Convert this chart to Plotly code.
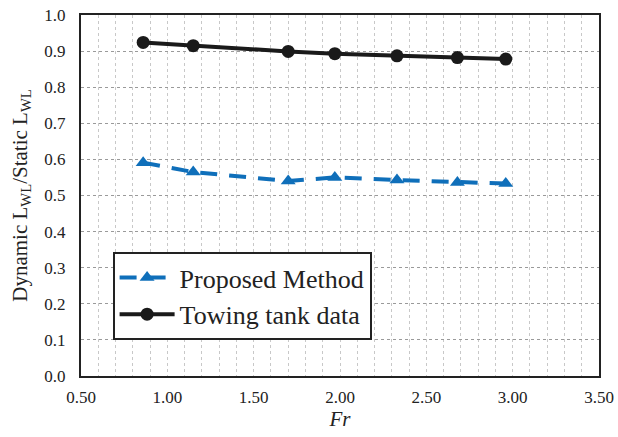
import plotly.graph_objects as go

fr = [0.86, 1.15, 1.70, 1.97, 2.33, 2.68, 2.96]
proposed = [0.591, 0.565, 0.540, 0.550, 0.543, 0.536, 0.533]
towing = [0.924, 0.915, 0.899, 0.893, 0.887, 0.882, 0.878]

FONT = "Liberation Serif"
BLUE = "#0F6FBA"
INK = "#222222"

fig = go.Figure()
fig.add_trace(go.Scatter(
    x=fr, y=proposed, name="Proposed Method", mode="lines+markers",
    line=dict(color=BLUE, width=4, dash="17px,12px"),
    marker=dict(symbol="triangle-up", size=13, color=BLUE),
    legendgroup="a",
))
fig.add_trace(go.Scatter(
    x=fr, y=towing, name="Towing tank data", mode="lines+markers",
    line=dict(color="#1a1a1a", width=4),
    marker=dict(symbol="circle", size=13, color="#1a1a1a"),
    legendgroup="b",
))

fig.update_layout(
    width=618, height=437,
    margin=dict(l=81, r=19, t=15, b=61, autoexpand=False),
    paper_bgcolor="white", plot_bgcolor="white",
    font=dict(family=FONT, color=INK, size=17),
    showlegend=True,
    legend=dict(
        x=0.061, y=0.3435, xanchor="left", yanchor="top",
        bgcolor="white", bordercolor=INK, borderwidth=2,
        font=dict(family=FONT, size=26, color=INK),
        traceorder="grouped", tracegroupgap=0, itemwidth=55,
    ),
    xaxis=dict(
        range=[0.5, 3.5], dtick=0.5, tick0=0.5, tickformat=".2f",
        tickfont=dict(family=FONT, size=17, color=INK),
        showline=True, linecolor=INK, linewidth=2, mirror=True,
        showgrid=True, gridcolor="#c8c8c8", griddash="dot", gridwidth=1,
        minor=dict(dtick=0.1, showgrid=True, gridcolor="#c8c8c8", griddash="dot", gridwidth=1),
        zeroline=False, ticks="", ticklabelstandoff=5, automargin=False,
        ticklabeloverflow="allow",
        title=dict(text="<i>Fr</i>", font=dict(family=FONT, size=21, color=INK), standoff=0),
    ),
    yaxis=dict(
        range=[0, 1.0], dtick=0.1, tickformat=".1f",
        tickfont=dict(family=FONT, size=17, color=INK),
        showline=True, linecolor=INK, linewidth=2, mirror=True,
        showgrid=True, gridcolor="#9a9a9a", griddash="dot", gridwidth=1,
        zeroline=False, ticks="", ticklabelstandoff=10, automargin=False,
        ticklabeloverflow="allow",
        title=dict(text="Dynamic L<sub>WL</sub>/Static L<sub>WL</sub>",
                   font=dict(family=FONT, size=21, color=INK), standoff=11),
    ),
)

fig.write_html("out.html", config={"displayModeBar": False},
               post_script="document.body.style.margin='0px';")
